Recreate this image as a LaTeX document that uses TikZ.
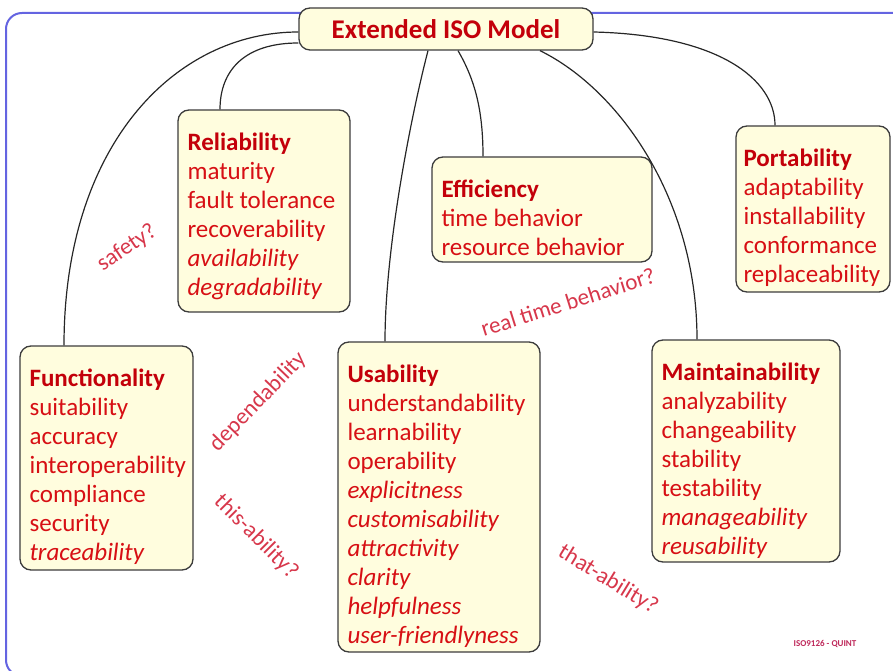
\documentclass[tikz,border=0pt]{standalone}
\usepackage{fontspec}
\setmainfont{Carlito}
\usetikzlibrary{calc}
\definecolor{frameblue}{RGB}{100,100,225}
\definecolor{boxfill}{RGB}{255,253,222}
\definecolor{boxline}{RGB}{60,60,60}
\definecolor{headred}{RGB}{195,0,10}
\definecolor{itemred}{RGB}{215,15,20}
\definecolor{labred}{RGB}{215,55,75}
\definecolor{tagred}{RGB}{190,40,90}
\lefthyphenmin=62 \righthyphenmin=62
\begin{document}
\begin{tikzpicture}[x=1pt,y=1pt,
  qbox/.style={draw=boxline, line width=1.3pt, fill=boxfill, rounded corners=11pt, inner sep=0pt},
  qtext/.style={anchor=north west, inner sep=0pt, align=left, text=itemred, font=\fontsize{25}{29}\selectfont},
  qlab/.style={text=labred, inner sep=0pt, font=\fontsize{23}{27}\selectfont},
  conn/.style={draw=black!85, line width=1.2pt}]
\useasboundingbox (0,0) rectangle (893,670);
\clip (0,0) rectangle (893,670);
% frame
\draw[frameblue, line width=2pt, rounded corners=16pt] (6,-6) rectangle (910,657);
% boxes
\node[qbox, minimum width=294pt, minimum height=42pt] (title) at (446,641) {};
\node[text=headred, font=\fontsize{27}{30}\selectfont\bfseries] (titletext) at (title.center) {Extended ISO Model};
\node[qbox, minimum width=172pt, minimum height=202pt] (rel) at (264,459) {};
\node[qbox, minimum width=220pt, minimum height=105pt] (eff) at (542,460.5) {};
\node[qbox, minimum width=154pt, minimum height=166pt] (por) at (813,461) {};
\node[qbox, minimum width=173pt, minimum height=224pt] (fun) at (106.5,212) {};
\node[qbox, minimum width=202pt, minimum height=310pt] (usa) at (439,173) {};
\node[qbox, minimum width=188pt, minimum height=222pt] (mai) at (746,219) {};
% texts
\node[qtext] (reltext) at ([xshift=10pt,yshift=-23pt]rel.north west) {\textcolor{headred}{\bfseries Reliability}\\maturity\\fault tolerance\\recoverability\\\textit{availability}\\\textit{degradability}};
\node[qtext] (efftext) at ([xshift=10pt,yshift=-23pt]eff.north west) {\textcolor{headred}{\bfseries Efficiency}\\time behavior\\resource behavior};
\node[qtext] (portext) at ([xshift=8pt,yshift=-23pt]por.north west) {\textcolor{headred}{\bfseries Portability}\\adaptability\\installability\\conformance\\replaceability};
\node[qtext] (funtext) at ([xshift=10pt,yshift=-23pt]fun.north west) {\textcolor{headred}{\bfseries Functionality}\\suitability\\accuracy\\interoperability\\compliance\\security\\\textit{traceability}};
\node[qtext] (usatext) at ([xshift=10pt,yshift=-23pt]usa.north west) {\textcolor{headred}{\bfseries Usability}\\understandability\\learnability\\operability\\\textit{explicitness}\\\textit{customisability}\\\textit{attractivity}\\\textit{clarity}\\\textit{helpfulness}\\\textit{user-friendlyness}};
\node[qtext] (maitext) at ([xshift=10pt,yshift=-23pt]mai.north west) {\textcolor{headred}{\bfseries Maintainability}\\analyzability\\changeability\\stability\\testability\\\textit{manageability}\\\textit{reusability}};
% connectors
\draw[conn] ([yshift=-3pt]title.west) .. controls (175,638) and (64,525) .. ([xshift=-42.5pt]fun.north);
\draw[conn] ([yshift=-14pt]title.west) .. controls (245,627) and (220,600) .. ([xshift=-44pt]rel.north);
\draw[conn] ([xshift=-18pt]title.south) .. controls (410,550) and (385,420) .. ([xshift=-54pt]usa.north);
\draw[conn] ([xshift=12pt]title.south) .. controls (475,590) and (483,560) .. ([xshift=-59pt]eff.north);
\draw[conn] ([xshift=94pt]title.south) .. controls (620,580) and (697,470) .. ([xshift=-49pt]mai.north);
\draw[conn] ([yshift=-3pt]title.east) .. controls (720,635) and (775,590) .. ([xshift=-38pt]por.north);
% labels
\node[qlab, rotate=34] (lsafety) at (127,422) {safety?};
\node[qlab, rotate=46] (ldep) at (258,268) {dependability};
\node[qlab, rotate=-45] (lthis) at (256,133) {this-ability?};
\node[qlab, rotate=17.5] (lreal) at (568,368) {real time behavior?};
\node[qlab, rotate=-31.5] (lthat) at (608,90) {that-ability?};
\node[text=tagred, inner sep=0pt, font=\fontsize{9}{10}\selectfont\bfseries] (tag) at (825,26) {ISO9126 - QUINT};
\end{tikzpicture}
\end{document}
